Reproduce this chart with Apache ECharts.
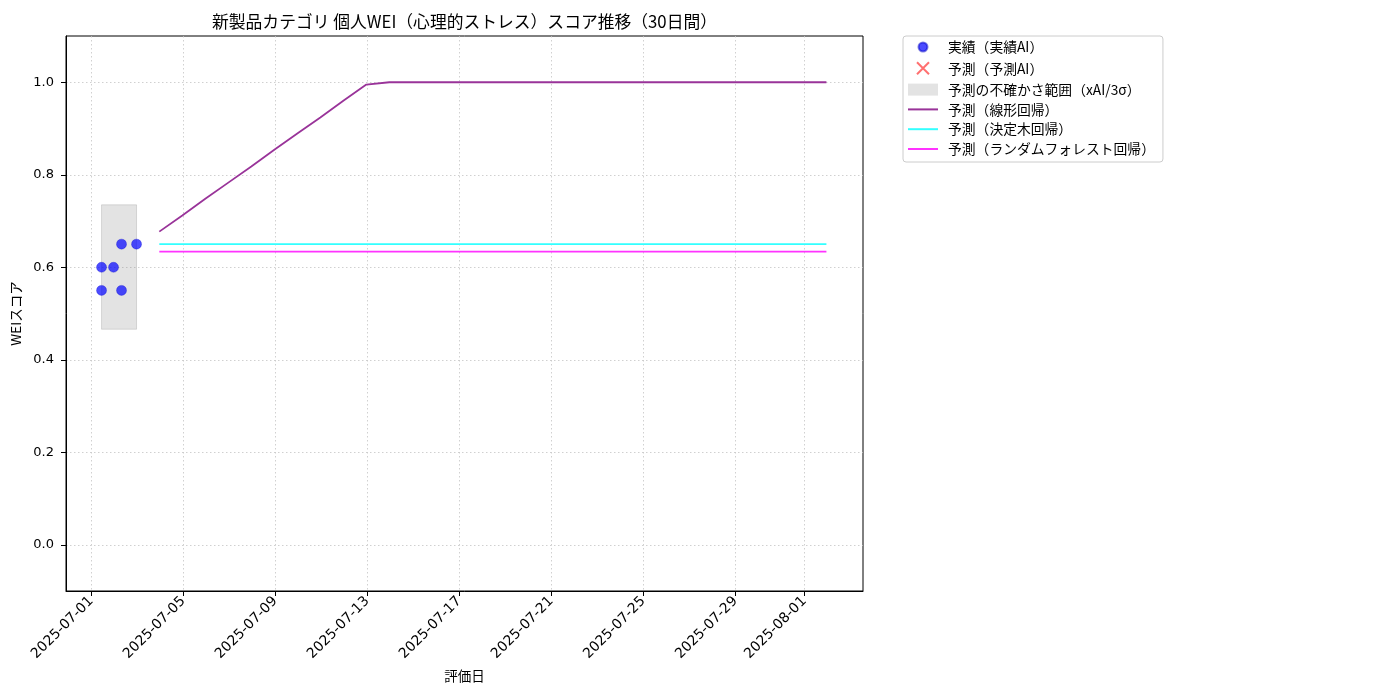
<!DOCTYPE html>
<html><head><meta charset="utf-8">
<script src="https://cdn.jsdelivr.net/npm/echarts@6/dist/echarts.min.js"></script>
<style>html,body{margin:0;padding:0;background:#fff}#c{width:1400px;height:700px}</style>
</head><body><div id="c"></div>
<script>
const actualDates = ['2025-07-01 10:45','2025-07-01 10:45','2025-07-01 23:15','2025-07-02 07:35','2025-07-02 07:35','2025-07-02 23:15'];
const actualValues = [0.60, 0.55, 0.60, 0.65, 0.55, 0.65];
const bandDates = ['2025-07-01 10:45','2025-07-02 23:15'];
const bandLow = 0.466;
const bandHigh = 0.735;
const predDates = ['2025-07-03 23:00','2025-07-04 23:00','2025-07-05 23:00','2025-07-06 23:00','2025-07-07 23:00','2025-07-08 23:00','2025-07-09 23:00','2025-07-10 23:00','2025-07-11 23:00','2025-07-12 23:00','2025-07-13 23:00','2025-07-14 23:00','2025-07-15 23:00','2025-07-16 23:00','2025-07-17 23:00','2025-07-18 23:00','2025-07-19 23:00','2025-07-20 23:00','2025-07-21 23:00','2025-07-22 23:00','2025-07-23 23:00','2025-07-24 23:00','2025-07-25 23:00','2025-07-26 23:00','2025-07-27 23:00','2025-07-28 23:00','2025-07-29 23:00','2025-07-30 23:00','2025-07-31 23:00','2025-08-01 23:00'];
const linearValues = [0.677,0.712,0.748,0.783,0.818,0.854,0.889,0.924,0.960,0.995,1.0,1.0,1.0,1.0,1.0,1.0,1.0,1.0,1.0,1.0,1.0,1.0,1.0,1.0,1.0,1.0,1.0,1.0,1.0,1.0];
const treeValues = [0.65,0.65,0.65,0.65,0.65,0.65,0.65,0.65,0.65,0.65,0.65,0.65,0.65,0.65,0.65,0.65,0.65,0.65,0.65,0.65,0.65,0.65,0.65,0.65,0.65,0.65,0.65,0.65,0.65,0.65];
const forestValues = [0.634,0.634,0.634,0.634,0.634,0.634,0.634,0.634,0.634,0.634,0.634,0.634,0.634,0.634,0.634,0.634,0.634,0.634,0.634,0.634,0.634,0.634,0.634,0.634,0.634,0.634,0.634,0.634,0.634,0.634];
const xTickLabels = ['2025-07-01','2025-07-05','2025-07-09','2025-07-13','2025-07-17','2025-07-21','2025-07-25','2025-07-29','2025-08-01'];
const yTicks = [0.0, 0.2, 0.4, 0.6, 0.8, 1.0];
const xMin = '2025-06-29 21:40';
const xMax = '2025-08-03 13:10';

const ts = s => { const [d,t] = s.split(' '); const [Y,M,D] = d.split('-').map(Number); const [h,m] = (t||'00:00').split(':').map(Number); return new Date(Y,M-1,D,h,m).getTime(); };
const pad = n => String(n).padStart(2,'0');
const fmt = v => { const d = new Date(v); return d.getFullYear()+'-'+pad(d.getMonth()+1)+'-'+pad(d.getDate()); };
const zip = (xs, ys) => xs.map((x,i)=>[ts(x), ys[i]]);
const font = '"DejaVu Sans", "Noto Sans CJK JP", sans-serif';
const jfont = '"Noto Sans CJK JP", "DejaVu Sans", sans-serif';
const gridLine = {show:true, lineStyle:{color:'#c4c4c4', type:[1.5,2.5], width:0.8}};
const hideSym = {opacity:0};

const chart = echarts.init(document.getElementById('c'), null, {renderer:'canvas'});
chart.setOption({
  animation:false,
  backgroundColor:'#fff',
  title:{text:'新製品カテゴリ 個人WEI（心理的ストレス）スコア推移（30日間）', left:207, top:8,
    textStyle:{fontFamily:jfont, fontSize:16.8, fontWeight:'normal', color:'#000'}},
  grid:{left:66, right:537, top:36, bottom:109, show:true, borderColor:'#000', borderWidth:1, containLabel:false},
  legend:{orient:'vertical', left:903, top:36, itemWidth:30, itemHeight:12, itemGap:5.8,
    padding:[4,8,6,4], borderColor:'#ccc', borderWidth:1, borderRadius:3,
    textStyle:{fontFamily:jfont, fontSize:13.8, lineHeight:14, color:'#000', padding:[0,0,0,5]},
    data:[
      {name:'実績（実績AI）', icon:'path://M0,0L0,0M16,16L16,16M8,2A6,6,0,1,1,7.99,2Z', itemStyle:{color:'rgba(0,0,255,0.7)'}},
      {name:'予測（予測AI）', icon:'path://M0,0L10,10M10,0L0,10', itemStyle:{color:'none', borderColor:'rgba(255,0,0,0.7)', borderWidth:2}},
      {name:'予測の不確かさ範囲（xAI/3σ）', icon:'rect', itemStyle:{color:'rgba(128,128,128,0.22)'}},
      {name:'予測（線形回帰）', itemStyle:hideSym},
      {name:'予測（決定木回帰）', itemStyle:hideSym},
      {name:'予測（ランダムフォレスト回帰）', itemStyle:hideSym}
    ]},
  xAxis:{type:'value', min:ts(xMin), max:ts(xMax),
    name:'評価日', nameLocation:'middle', nameGap:78, nameTextStyle:{fontFamily:jfont, fontSize:13.5, color:'#000'},
    axisLine:{show:true, onZero:false, lineStyle:{color:'#000', width:1}},
    axisTick:{show:true, length:5, lineStyle:{color:'#000'}, customValues:xTickLabels.map(ts)},
    axisLabel:{rotate:45, fontFamily:font, fontSize:14, color:'#000', margin:8, customValues:xTickLabels.map(ts), formatter:v=>fmt(v), hideOverlap:false},
    splitLine:gridLine},
  yAxis:{type:'value', min:-0.1, max:1.1,
    name:'WEIスコア', nameLocation:'middle', nameGap:38, nameRotate:90, nameTextStyle:{fontFamily:jfont, fontSize:13.5, color:'#000'},
    axisLine:{show:true, onZero:false, lineStyle:{color:'#000', width:1}},
    axisTick:{show:true, length:5, lineStyle:{color:'#000'}, customValues:yTicks},
    axisLabel:{fontFamily:font, fontSize:13, color:'#000', margin:12, customValues:yTicks, formatter:v=>v.toFixed(1)},
    splitLine:gridLine},
  series:[
    {name:'実績（実績AI）', type:'scatter', symbol:'circle', symbolSize:10, z:5,
      itemStyle:{color:'rgba(0,0,255,0.7)', opacity:1, borderColor:'rgba(0,0,200,0.5)', borderWidth:0.6}, data:zip(actualDates, actualValues)},
    {name:'予測（予測AI）', type:'scatter', symbol:'path://M0,0L10,10M10,0L0,10', symbolSize:10,
      itemStyle:{color:'none', borderColor:'rgba(255,0,0,0.7)', borderWidth:2}, data:[]},
    {name:'予測の不確かさ範囲（xAI/3σ）', type:'line', data:[], z:1,
      itemStyle:{color:'rgba(128,128,128,0.22)'},
      markArea:{silent:true, itemStyle:{color:'rgba(128,128,128,0.22)', borderColor:'rgba(128,128,128,0.25)', borderWidth:1},
        data:[[{coord:[ts(bandDates[0]), bandLow]},{coord:[ts(bandDates[1]), bandHigh]}]]}},
    {name:'予測（線形回帰）', type:'line', symbol:'none', showSymbol:false, z:3,
      lineStyle:{color:'#993399', width:1.8}, itemStyle:{color:'#993399'}, data:zip(predDates, linearValues)},
    {name:'予測（決定木回帰）', type:'line', symbol:'none', showSymbol:false, z:3,
      lineStyle:{color:'#33ffff', width:1.8}, itemStyle:{color:'#33ffff'}, data:zip(predDates, treeValues)},
    {name:'予測（ランダムフォレスト回帰）', type:'line', symbol:'none', showSymbol:false, z:3,
      lineStyle:{color:'#ff33ff', width:1.8}, itemStyle:{color:'#ff33ff'}, data:zip(predDates, forestValues)}
  ]
});
</script></body></html>
